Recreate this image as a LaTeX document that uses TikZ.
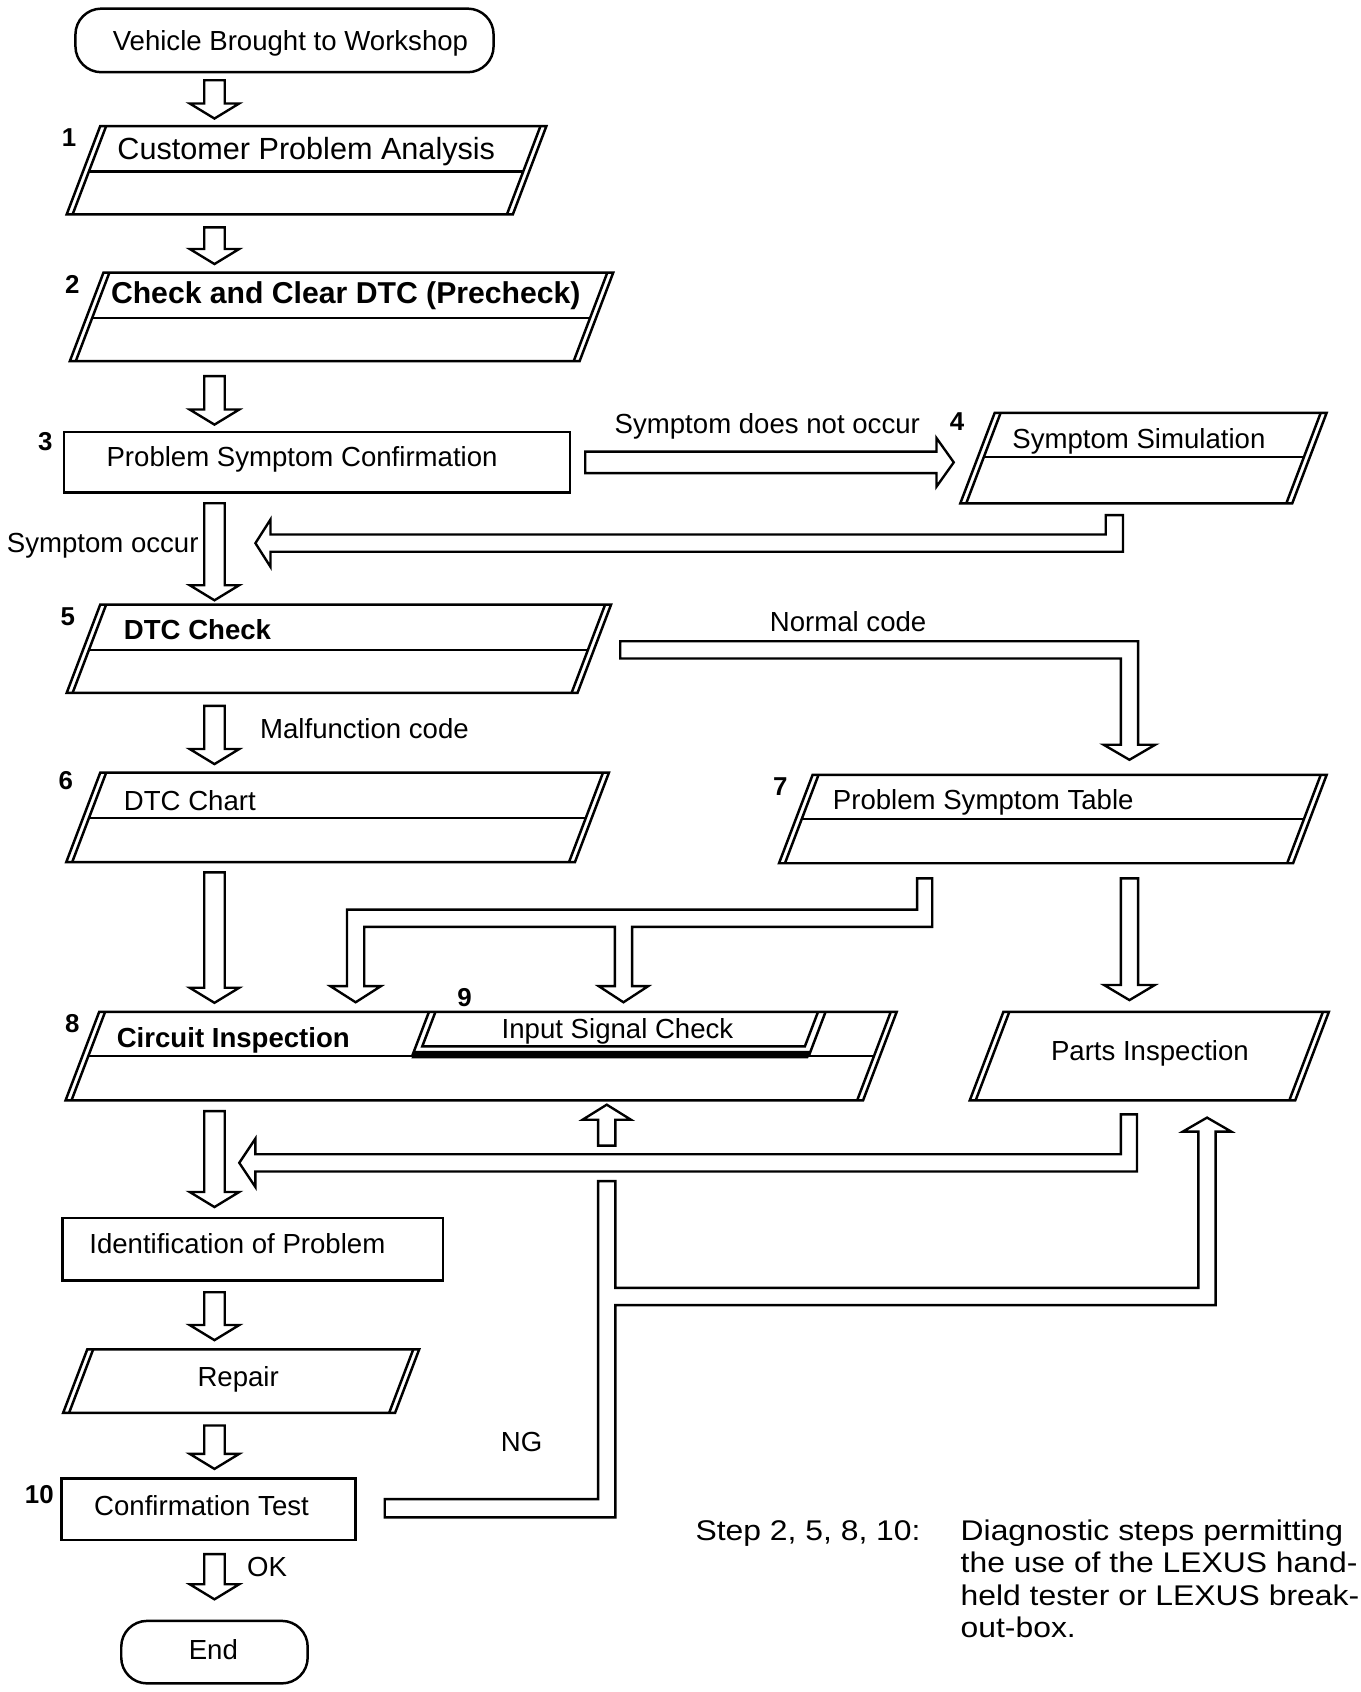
\documentclass[tikz,border=0pt]{standalone}
\usepackage{fontspec}
\setmainfont{Liberation Sans}
\newfontfamily\notefont{Liberation Sans}[FakeStretch=1.12]
\usetikzlibrary{calc}
% parallelogram with doubled slanted sides: T B TL TR D(0 = none)
\newcommand\pgram[5]{%
 \pgfmathsetmacro\ps{0.38*(#2-#1)}%
 \pgfmathsetmacro\bl{#3-\ps}\pgfmathsetmacro\br{#4-\ps}%
 \draw[bx] (#3,#1) -- (#4,#1) -- (\br,#2) -- (\bl,#2) -- cycle;
 \draw[bx] (#3+5.5,#1) -- (\bl+5.5,#2);
 \draw[bx] (#4-5.5,#1) -- (\br-5.5,#2);
 \ifnum#5>0
  \pgfmathsetmacro\dl{#3+5.5-0.38*(#5-#1)}\pgfmathsetmacro\dr{#4-5.5-0.38*(#5-#1)}%
  \draw[bx] (\dl,#5) -- (\dr,#5);
 \fi}
% hollow block arrows: shaft half, head half, from, to
\newcommand\darrow[4]{\draw[blk] let \p1=#3, \p2=#4 in
 (\x1-#1,\y1) -- (\x1+#1,\y1) -- (\x1+#1,\y2+7pt) -- (\x1+#2,\y2+7pt) -- (\x1,\y2)
 -- (\x1-#2,\y2+7pt) -- (\x1-#1,\y2+7pt) -- cycle;}
\newcommand\uarrow[4]{\draw[blk] let \p1=#3, \p2=#4 in
 (\x1-#1,\y1) -- (\x1+#1,\y1) -- (\x1+#1,\y2-7pt) -- (\x1+#2,\y2-7pt) -- (\x1,\y2)
 -- (\x1-#2,\y2-7pt) -- (\x1-#1,\y2-7pt) -- cycle;}
\newcommand\rarrow[4]{\draw[blk] let \p1=#3, \p2=#4 in
 (\x1,\y1+#1) -- (\x2-8pt,\y1+#1) -- (\x2-8pt,\y1+#2) -- (\x2,\y1)
 -- (\x2-8pt,\y1-#2) -- (\x2-8pt,\y1-#1) -- (\x1,\y1-#1) -- cycle;}
\begin{document}
\begin{tikzpicture}[x=0.5pt,y=-0.5pt,
 bx/.style={line width=1.15pt, line join=miter},
 blk/.style={draw, line width=1.1pt, fill=white, line join=miter},
 tx/.style={inner sep=0pt, font=\fontsize{12.8}{14}\selectfont},
 txb/.style={inner sep=0pt, font=\bfseries\fontsize{12.8}{14}\selectfont},
 num/.style={inner sep=0pt, font=\bfseries\fontsize{12}{13}\selectfont, anchor=base},
 oval/.style={draw, line width=1.15pt, rounded corners=12pt, inner sep=0pt},
 rbox/.style={draw, line width=1.15pt, inner sep=0pt},
 notetx/.style={inner sep=0pt, anchor=base west, font=\notefont\fontsize{13.2}{14}\selectfont}]
\useasboundingbox (0,0) rectangle (1262,1570);
\fill[white] (0,0) rectangle (1262,1570);

% ---- start / end ovals
\node[oval, minimum width=194pt, minimum height=29.5pt] (start) at (264,37.5) {};
\node[tx, anchor=base] (tstart) at (269.5,46.5) {Vehicle Brought to Workshop};
\node[oval, minimum width=86.5pt, minimum height=29pt] (end) at (199,1533) {};
\node[tx, anchor=base] (tend) at (198,1540) {End};

% ---- box 1
\pgram{117}{199}{93}{507}{159}
\node[inner sep=0pt, anchor=base west, font=\fontsize{14.2}{16}\selectfont] (t1) at (108.6,148.4) {Customer Problem Analysis};
\node[num] (n1) at (64,136) {1};
% ---- box 2
\pgram{253}{335}{96}{569}{295}
\node[inner sep=0pt, anchor=base west, font=\bfseries\fontsize{14}{16}\selectfont] (t2) at (102.6,281.4) {Check and Clear DTC (Precheck)};
\node[num] (n2) at (67,272) {2};
% ---- box 3
\node[rbox, minimum width=234.75pt, minimum height=28pt] (b3) at (294.25,429) {};
\node[tx, anchor=base west] (t3) at (98.5,433) {Problem Symptom Confirmation};
\node[num] (n3) at (42,418) {3};
% ---- box 4
\pgram{383}{467}{923}{1231}{424}
\node[tx, anchor=base west] (t4) at (939,416) {Symptom Simulation};
\node[num] (n4) at (888,399) {4};
% ---- box 5
\pgram{561}{643}{93}{567}{603}
\node[txb, anchor=base west] (t5) at (114.6,593) {DTC Check};
\node[num] (n5) at (63,580) {5};
% ---- box 6
\pgram{717}{800}{93}{565}{759}
\node[tx, anchor=base west] (t6) at (114.6,752) {DTC Chart};
\node[num] (n6) at (61,733) {6};
% ---- box 7
\pgram{719}{801}{754}{1231}{760}
\node[tx, anchor=base west] (t7) at (772.5,751.5) {Problem Symptom Table};
\node[num] (n7) at (724,738) {7};
% ---- box 8 with box 9
\pgram{939}{1021}{92}{832}{980}
\draw[bx] (398,939) -- (382.4,980);
\draw[bx] (404,939) -- (391.8,971) -- (746.8,971) -- (759,939);
\draw[bx] (766,939) -- (750.4,980);
\fill (384.3,975) -- (752.3,975) -- (749.8,982) -- (381.8,982) -- cycle;
\node[txb, anchor=base west] (t8) at (108,972) {Circuit Inspection};
\node[tx, anchor=base] (t9) at (573,963.2) {Input Signal Check};
\node[num] (n8) at (67,958) {8};
\node[num] (n9) at (431,933.6) {9};
% ---- parts inspection
\pgram{939}{1021}{931}{1233}{0}
\node[tx, anchor=base] (tparts) at (1067,983.7) {Parts Inspection};
% ---- identification
\node[rbox, minimum width=176.5pt, minimum height=29pt] (bident) at (234.5,1159) {};
\node[tx, anchor=base west] (tident) at (82.5,1163) {Identification of Problem};
% ---- repair
\pgram{1252}{1311}{81}{389}{0}
\node[tx, anchor=base] (trep) at (221,1286.5) {Repair};
% ---- confirmation
\node[rbox, minimum width=136.5pt, minimum height=28.5pt] (bconf) at (193.5,1400.5) {};
\node[tx, anchor=base] (tconf) at (187,1406.5) {Confirmation Test};
\node[num] (n10) at (36.5,1394.7) {10};

% ---- vertical main arrows
\darrow{4.75pt}{11.5pt}{(199,74.5)}{(199,110)}
\darrow{4.75pt}{11.5pt}{(199,211)}{(199,245)}
\darrow{4.75pt}{11.5pt}{(199,349)}{(199,394)}
\darrow{4.75pt}{11.5pt}{(199,467)}{(199,557)}
\darrow{4.75pt}{11.5pt}{(199,655)}{(199,709)}
\darrow{4.75pt}{11.5pt}{(199,809.5)}{(199,930.5)}
\darrow{4.75pt}{11.5pt}{(199,1031)}{(199,1120)}
\darrow{4.75pt}{11.5pt}{(199,1199)}{(199,1243.5)}
\darrow{4.75pt}{11.5pt}{(199,1322.7)}{(199,1363)}
\darrow{4.75pt}{11.5pt}{(199,1442)}{(199,1484)}
% box7 -> parts
\darrow{4pt}{11.75pt}{(1048,815)}{(1048,928)}
% small up arrow into box 8
\uarrow{4pt}{11.25pt}{(563,1063)}{(563,1025)}
% symptom does not occur
\rarrow{5pt}{11.25pt}{(543,429)}{(885,429)}

% return from symptom simulation
\draw[blk] (1042,478) -- (1042,512) -- (251,512) -- (251,526) -- (237,504) -- (251,482)
 -- (251,496) -- (1026,496) -- (1026,478) -- cycle;
% normal code
\draw[blk] (575.5,595) -- (1056,595) -- (1056,691) -- (1072,691) -- (1048,705) -- (1024,691)
 -- (1040,691) -- (1040,611) -- (575.5,611) -- cycle;
% box 7 -> circuit / input signal
\draw[blk] (851,815) -- (865,815) -- (865,860) -- (586.5,860) -- (586.5,915) -- (601.5,915)
 -- (578.5,930) -- (555.5,915) -- (570.5,915) -- (570.5,860) -- (338,860) -- (338,915)
 -- (353.5,915) -- (330,930) -- (306.5,915) -- (322,915) -- (322,844) -- (851,844) -- cycle;
% parts inspection return
\draw[blk] (1055,1034) -- (1055,1087) -- (237,1087) -- (237,1101.5) -- (222,1079)
 -- (237,1056.5) -- (237,1071) -- (1040,1071) -- (1040,1034) -- cycle;
% NG loop
\draw[blk] (357,1391) -- (555,1391) -- (555,1096) -- (571,1096) -- (571,1195) -- (1112,1195)
 -- (1112,1050) -- (1097.5,1050) -- (1120,1037) -- (1142.5,1050) -- (1128,1050)
 -- (1128,1211) -- (571,1211) -- (571,1408) -- (357,1408) -- cycle;

% ---- labels
\node[tx, anchor=base west] (lnot) at (570,402) {Symptom does not occur};
\node[tx, anchor=base west] (locc) at (6,513) {Symptom occur};
\node[tx, anchor=base west] (lnorm) at (714,586) {Normal code};
\node[tx, anchor=base west] (lmal) at (241,685) {Malfunction code};
\node[tx, anchor=base] (lng) at (484,1346.8) {NG};
\node[tx, anchor=base west] (lok) at (229,1463) {OK};

% ---- note
\node[notetx] (nstep) at (645,1429.5) {Step 2, 5, 8, 10:};
\node[notetx] (nl1) at (891,1429.5) {Diagnostic steps permitting};
\node[notetx] (nl2) at (891,1459.5) {the use of the LEXUS hand-};
\node[notetx] (nl3) at (891,1489.5) {held tester or LEXUS break-};
\node[notetx] (nl4) at (891,1519.5) {out-box.};
\end{tikzpicture}
\end{document}
